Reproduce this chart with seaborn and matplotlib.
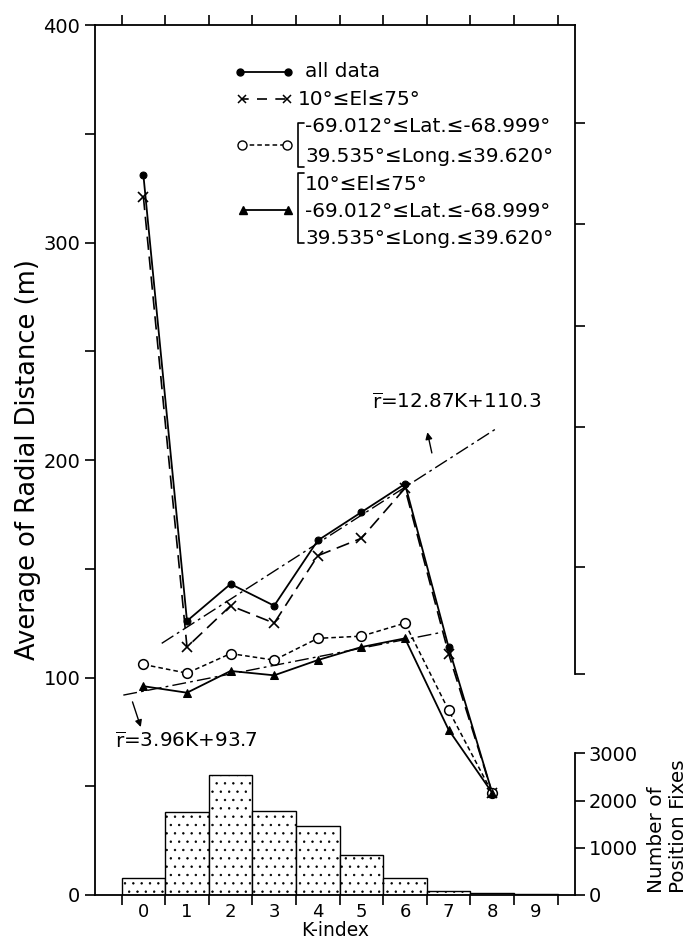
import numpy as np
import matplotlib
matplotlib.use("Agg")
import matplotlib.pyplot as plt
import seaborn as sns
from matplotlib.ticker import FixedLocator, MultipleLocator, NullFormatter

# values
k_index = [0, 1, 2, 3, 4, 5, 6, 7, 8]
r_all_data = [331, 126, 143, 133, 163, 176, 189, 114, 47]
r_elevation = [321, 114, 133, 125, 156, 164, 187, 111, 47]
r_lat_long = [106, 102, 111, 108, 118, 119, 125, 85, 47]
r_el_lat_long = [96, 93, 103, 101, 108, 114, 118, 76, 47]

k_bins = [0, 1, 2, 3, 4, 5, 6, 7, 8, 9]
position_fixes = [370, 1750, 2550, 1790, 1460, 850, 370, 80, 50, 20]

# end points of the two fitted lines
fit_hi_k = [0.42, 8.1]
fit_hi_r = [115.7, 214.5]
fit_lo_k = [-0.46, 6.8]
fit_lo_r = [91.9, 120.6]

right_ticks = [101.6, 151, 215.3, 261.6, 308.5, 355.1]
hist_ticks = [0, 1000, 2000, 3000]

sns.set_theme(style="ticks")
plt.rcParams["font.family"] = ["DejaVu Sans"]
plt.rcParams.update({
    "axes.edgecolor": "black",
    "axes.linewidth": 1.3,
    "xtick.color": "black",
    "ytick.color": "black",
    "text.color": "black",
    "axes.labelcolor": "black",
    "hatch.linewidth": 0.5,
    "hatch.color": "black",
})

fig = plt.figure(figsize=(6.89, 9.40), dpi=100)
ax = fig.add_axes([95 / 689, 45 / 940, 480 / 689, 870 / 940])
ax_h = ax.twinx()   # histogram of position fixes
ax_r = ax.twinx()   # ticks of the upper right spine
ax.set_zorder(3)
ax.patch.set_visible(False)

# --- histogram ---
sns.barplot(x=k_bins, y=position_fixes, ax=ax_h, color="white", edgecolor="black",
            linewidth=1.0, width=1.0, saturation=1, hatch="..")
ax_h.set_ylim(0, 18430)
ax_h.set_yticks(hist_ticks)
ax_h.set_yticklabels([str(t) for t in hist_ticks], fontsize=14)
ax_h.tick_params(axis="y", direction="out", length=7, width=1.2, pad=3)
for s in ["left", "top", "bottom"]:
    ax_h.spines[s].set_visible(False)
ax_h.spines["right"].set_bounds(0, 3000)
ax_h.set_ylabel("")

# --- curves ---
line_kw = dict(ax=ax, color="black", sort=False, errorbar=None)
sns.lineplot(x=k_index, y=r_all_data, linewidth=1.3, marker="o", markersize=5,
             markerfacecolor="black", markeredgecolor="black", **line_kw)
sns.lineplot(x=k_index, y=r_elevation, linewidth=1.2, linestyle=(0, (8, 4)), marker="x",
             markersize=7, markeredgecolor="black", markeredgewidth=1.2, **line_kw)
sns.lineplot(x=k_index, y=r_lat_long, linewidth=1.1, linestyle=(0, (3, 2)), marker="o",
             markersize=7, markerfacecolor="white", markeredgecolor="black",
             markeredgewidth=1.1, **line_kw)
sns.lineplot(x=k_index, y=r_el_lat_long, linewidth=1.3, marker="^", markersize=6,
             markerfacecolor="black", markeredgecolor="black", **line_kw)
sns.lineplot(x=fit_hi_k, y=fit_hi_r, linewidth=1.0, linestyle=(0, (10, 3, 2, 3)), **line_kw)
sns.lineplot(x=fit_lo_k, y=fit_lo_r, linewidth=1.0, linestyle=(0, (10, 3, 2, 3)), **line_kw)

# fitted line labels
ax.text(5.24, 226.5, r"$\overline{\mathrm{r}}$=12.87K+110.3", fontsize=14.4, va="center")
ax.annotate("", xy=(6.5, 214), xytext=(6.63, 202),
            arrowprops=dict(arrowstyle="-|>", color="black", lw=1.0, mutation_scale=10))
ax.text(-0.66, 70.4, r"$\overline{\mathrm{r}}$=3.96K+93.7", fontsize=14.4, va="center")
ax.annotate("", xy=(-0.04, 76), xytext=(-0.27, 90),
            arrowprops=dict(arrowstyle="-|>", color="black", lw=1.0, mutation_scale=10))

# --- axes ---
ax.set_xlim(-1.11, 9.9)
ax.set_ylim(0, 400)
ax_r.set_ylim(0, 400)
ax.xaxis.set_major_locator(FixedLocator(np.arange(-0.5, 10, 1)))
ax.xaxis.set_major_formatter(NullFormatter())
ax.set_xticks(k_bins, minor=True)
ax.set_xticklabels([str(k) for k in k_bins], minor=True, fontsize=13)
ax.tick_params(axis="x", which="major", direction="out", length=7, width=1.2, top=True)
ax.tick_params(axis="x", which="minor", length=0, pad=6)
ax.yaxis.set_major_locator(MultipleLocator(100))
ax.yaxis.set_minor_locator(MultipleLocator(50))
ax.tick_params(axis="y", which="both", direction="out", length=7, width=1.2, labelsize=14,
               right=False)
ax.spines["right"].set_visible(False)
ax.set_xlabel("K-index", fontsize=13.5, labelpad=0)
ax.set_ylabel("Average of Radial Distance (m)", fontsize=18.5, labelpad=2)

ax_r.set_yticks(right_ticks)
ax_r.yaxis.set_major_formatter(NullFormatter())
ax_r.tick_params(axis="y", direction="out", length=7, width=1.2)
for s in ["left", "top", "bottom"]:
    ax_r.spines[s].set_visible(False)
ax_r.spines["right"].set_bounds(101.6, 400)

fig.text(668 / 689, 1 - 893 / 940, "Number of\nPosition Fixes", rotation=90,
         ha="center", va="bottom", multialignment="left", fontsize=14.4)

# --- legend, drawn by hand in axes fraction ---
tr = dict(transform=ax.transAxes, clip_on=False, color="black")
ax.plot([0.302, 0.402], [0.9463, 0.9463], lw=1.3, marker="o", ms=5, **tr)
ax.text(0.4375, 0.9463, "all data", fontsize=14.4, va="center", transform=ax.transAxes)

ax.plot([0.306, 0.399], [0.9146, 0.9146], lw=1.2, ls=(2, (6, 5)), marker="x", ms=6,
        mew=1.1, **tr)
ax.text(0.4235, 0.9146, "10°≤El≤75°", fontsize=14.4, va="center", transform=ax.transAxes)

ax.plot([0.3056, 0.3994], [0.8621, 0.8621], lw=1.1, ls=(0, (3, 2)), marker="o", ms=6.5,
        mfc="white", **tr)
ax.plot([0.435, 0.4229, 0.4229, 0.435], [0.8874, 0.8874, 0.8372, 0.8372], lw=1.2, **tr)
ax.text(0.4375, 0.8831, "-69.012°≤Lat.≤-68.999°", fontsize=14.4, va="center",
        transform=ax.transAxes)
ax.text(0.4375, 0.8486, "39.535°≤Long.≤39.620°", fontsize=14.4, va="center",
        transform=ax.transAxes)

ax.plot([0.3088, 0.4027], [0.7874, 0.7874], lw=1.3, marker="^", ms=6, **tr)
ax.plot([0.435, 0.4229, 0.4229, 0.435], [0.8295, 0.8295, 0.7490, 0.7490], lw=1.2, **tr)
ax.text(0.4375, 0.8161, "10°≤El≤75°", fontsize=14.4, va="center", transform=ax.transAxes)
ax.text(0.4375, 0.7854, "-69.012°≤Lat.≤-68.999°", fontsize=14.4, va="center",
        transform=ax.transAxes)
ax.text(0.4375, 0.7548, "39.535°≤Long.≤39.620°", fontsize=14.4, va="center",
        transform=ax.transAxes)

fig.savefig("out.png", dpi=100)
